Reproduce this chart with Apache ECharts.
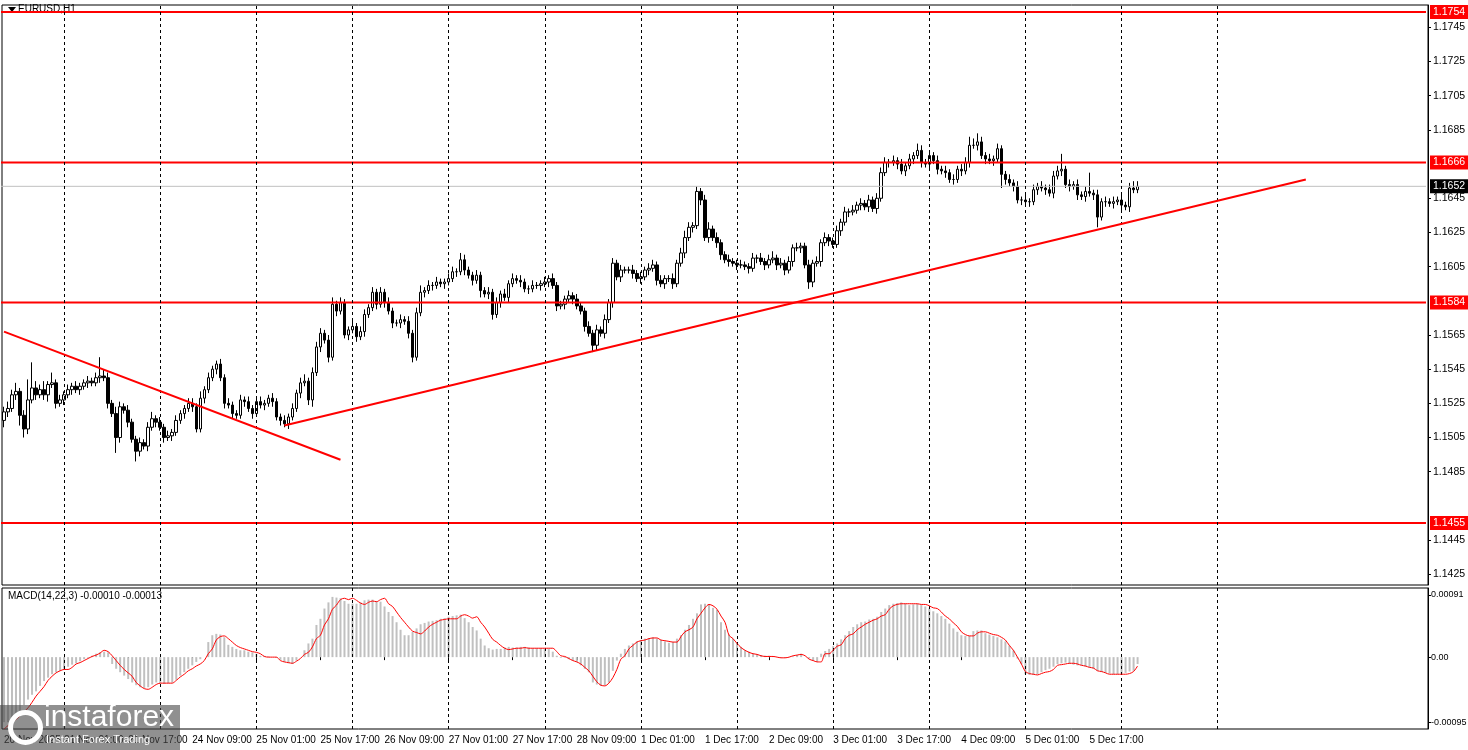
<!DOCTYPE html>
<html><head><meta charset="utf-8">
<script src="https://cdn.jsdelivr.net/npm/echarts@6/dist/echarts.min.js"></script>
<style>html,body{margin:0;padding:0;background:#fff}#c{width:1468px;height:750px}</style>
</head><body><div id="c"></div>
<script>
const closes = [
1.1520,1.1522,1.1530,1.1532,1.1518,1.1510,1.1527,1.1534,1.1530,1.1533,1.1530,1.1536,1.1537,1.1525,1.1527,1.1530,1.1533,1.1535,1.1533,1.1535,
1.1537,1.1538,1.1537,1.1540,1.1541,1.1540,1.1525,1.1519,1.1505,1.1523,1.1521,1.1514,1.1504,1.1497,1.1502,1.1500,1.1511,1.1516,1.1514,1.1511,
1.1505,1.1506,1.1508,1.1515,1.1519,1.1522,1.1525,1.1523,1.1510,1.1528,1.1533,1.1540,1.1545,1.1548,1.1540,1.1525,1.1524,1.1519,1.1518,1.1527,
1.1526,1.1522,1.1519,1.1526,1.1524,1.1525,1.1528,1.1526,1.1517,1.1515,1.1513,1.1517,1.1522,1.1531,1.1537,1.1538,1.1527,1.1543,1.1558,1.1566,
1.1562,1.1552,1.1583,1.1579,1.1584,1.1565,1.1568,1.1570,1.1564,1.1567,1.1577,1.1581,1.1590,1.1583,1.1590,1.1584,1.1579,1.1572,1.1572,1.1574,
1.1573,1.1566,1.1552,1.1578,1.1590,1.1591,1.1594,1.1594,1.1596,1.1595,1.1596,1.1598,1.1602,1.1602,1.1609,1.1603,1.1600,1.1597,1.1600,1.1591,
1.1589,1.1590,1.1577,1.1584,1.1589,1.1587,1.1595,1.1598,1.1597,1.1596,1.1592,1.1592,1.1594,1.1594,1.1595,1.1596,1.1598,1.1594,1.1582,1.1583,
1.1586,1.1588,1.1586,1.1582,1.1579,1.1570,1.1566,1.1559,1.1568,1.1566,1.1574,1.1584,1.1607,1.1599,1.1603,1.1603,1.1603,1.1601,1.1598,1.1599,
1.1603,1.1604,1.1606,1.1597,1.1595,1.1598,1.1598,1.1595,1.1607,1.1613,1.1622,1.1628,1.1629,1.1649,1.1644,1.1622,1.1627,1.1622,1.1619,1.1612,
1.1609,1.1608,1.1607,1.1606,1.1606,1.1605,1.1604,1.1610,1.1610,1.1608,1.1606,1.1609,1.1610,1.1606,1.1607,1.1603,1.1608,1.1616,1.1616,1.1617,
1.1606,1.1596,1.1607,1.1608,1.1619,1.1622,1.1620,1.1618,1.1626,1.1631,1.1637,1.1637,1.1638,1.1641,1.1642,1.1640,1.1644,1.1639,1.1645,1.1660,
1.1666,1.1666,1.1667,1.1665,1.1661,1.1664,1.1668,1.1670,1.1673,1.1666,1.1665,1.1670,1.1667,1.1662,1.1661,1.1660,1.1656,1.1656,1.1662,1.1661,
1.1666,1.1676,1.1676,1.1678,1.1670,1.1668,1.1667,1.1668,1.1674,1.1659,1.1656,1.1654,1.1652,1.1644,1.1644,1.1643,1.1643,1.1650,1.1652,1.1651,
1.1650,1.1648,1.1658,1.1661,1.1662,1.1653,1.1652,1.1653,1.1647,1.1646,1.1649,1.1648,1.1647,1.1634,1.1643,1.1643,1.1642,1.1643,1.1644,1.1641,
1.1640,1.1651,1.1650,1.1652];
const firstOpen = 1.1515;
const wickUp = [
3,4,3,5,2,3,12,15,4,3,5,2,6,2,3,2,3,2,3,2,
2,3,2,3,11,4,3,2,4,3,2,3,2,2,3,2,3,4,2,3,
2,3,2,3,2,2,3,3,2,4,2,3,2,2,3,2,3,2,2,3,
2,3,2,2,3,2,2,3,2,2,3,2,3,2,3,4,2,3,3,3,
2,3,4,2,3,2,2,4,2,3,3,2,3,2,3,2,3,2,2,3,
2,3,2,3,4,2,3,2,3,2,2,3,3,2,4,3,2,2,3,2,
2,3,2,3,2,3,2,3,2,3,2,2,3,2,2,3,2,3,2,2,
2,3,2,3,2,2,3,2,3,2,3,2,3,2,3,2,2,3,2,3,
2,3,3,2,3,2,2,3,2,3,4,3,2,3,2,3,4,2,3,2,
2,3,2,2,3,2,2,3,2,3,2,3,4,2,3,2,3,2,3,2,
2,3,2,3,2,3,2,2,3,2,3,2,3,2,3,2,3,2,3,3,
3,2,3,2,3,2,3,2,4,3,2,3,2,3,2,3,2,3,2,3,
3,5,4,5,3,2,3,2,3,2,2,3,2,3,2,3,2,3,2,3,
2,3,3,3,9,2,3,2,3,2,3,11,2,3,2,3,2,3,2,3,
2,3,4,3];
const wickDown = [
4,3,2,3,6,5,3,2,3,2,3,4,2,3,2,3,2,3,2,3,
2,3,2,2,3,2,3,2,9,3,2,3,2,6,3,2,3,2,3,2,
3,2,3,2,2,3,2,3,2,2,3,2,2,3,2,3,2,3,2,2,
3,2,3,2,2,3,2,3,2,3,2,3,2,2,3,2,3,4,2,3,
2,3,2,3,2,2,3,2,3,2,3,2,2,3,2,3,2,3,2,3,
2,3,3,2,2,3,2,3,2,2,3,2,2,3,2,3,2,3,2,4,
2,3,3,2,3,2,3,2,2,3,2,3,2,2,3,2,3,2,3,2,
3,2,3,2,2,3,2,4,3,2,3,2,3,2,3,2,2,3,2,3,
2,3,2,3,2,3,2,3,2,2,3,2,3,2,3,2,3,2,3,3,
2,3,2,3,2,2,3,2,3,2,3,2,2,3,2,3,2,3,2,3,
2,4,3,2,3,2,3,2,2,3,2,3,2,2,3,2,3,2,3,2,
2,3,2,3,2,3,2,3,2,3,2,3,2,3,2,3,2,3,2,3,
2,3,2,3,2,3,2,3,2,8,3,2,3,2,3,2,3,2,3,2,
3,2,3,2,3,2,3,2,3,2,3,2,3,6,2,3,2,3,2,3,
2,3,2,2];
// MACD in units of 0.00001
const macdHist = [
-95,-95,-90,-85,-78,-70,-62,-55,-50,-42,-35,-30,-25,-22,-20,-17,-14,-11,-9,-6,
-3,-1,2,5,7,8,7,-10,-17,-22,-27,-32,-37,-41,-44,-45,-44,-40,-37,-38,
-39,-38,-37,-33,-27,-22,-17,-12,-7,-3,0,22,32,34,33,29,18,15,12,10,
10,8,7,5,2,2,1,0,-1,-4,-7,-9,-10,-5,0,10,20,27,47,56,
71,80,88,87,86,82,78,78,78,80,83,84,84,82,81,74,66,60,51,40,
32,32,37,42,48,50,52,53,54,56,57,59,60,61,62,57,51,44,39,27,
17,13,11,12,12,14,15,14,14,15,15,14,13,13,13,12,12,8,2,-1,
-1,-3,-5,-7,-12,-17,-22,-37,-40,-42,-41,-37,-20,-5,5,12,17,20,23,25,
27,28,29,27,25,23,21,22,27,32,40,47,56,64,77,78,77,72,69,51,
40,33,27,21,15,10,8,5,4,3,2,2,1,0,-1,-1,0,1,3,5,
0,-2,-5,-7,5,9,12,16,20,26,32,38,44,48,51,52,55,56,59,66,
71,76,78,79,80,78,76,77,78,76,74,71,67,64,60,56,49,42,37,32,
31,31,38,39,39,35,33,31,29,26,23,17,10,-2,-10,-25,-26,-26,-25,-22,
-19,-17,-14,-10,-9,-8,-10,-11,-12,-12,-14,-15,-17,-20,-22,-23,-24,-25,-25,-24,
-23,-21,-20,-10];
const macdSignal = [
-105,-100,-95,-91,-86,-80,-74,-66,-57,-50,-43,-34,-28,-23,-20,-18,-18,-15,-10,-8,
-5,-2,1,3,6,10,8,2,-5,-12,-18,-23,-28,-37,-42,-46,-47,-44,-40,-38,
-38,-38,-38,-34,-29,-25,-20,-17,-13,-10,-5,5,12,25,30,31,27,22,17,14,
12,10,8,7,5,1,0,0,0,-5,-7,-8,-9,-6,-2,4,7,15,27,32,
47,56,70,76,84,86,84,86,83,79,77,80,82,81,84,86,78,74,66,58,
51,44,38,36,34,38,44,48,51,54,55,56,56,56,60,62,60,57,59,51,
44,35,26,22,17,13,11,12,13,13,14,13,13,13,13,13,13,13,8,2,
1,-2,-5,-7,-10,-15,-20,-28,-36,-41,-42,-38,-30,-18,-3,2,12,17,22,24,
25,27,28,28,25,24,23,22,22,30,37,40,44,56,64,72,77,75,70,60,
51,32,27,20,14,10,7,5,4,2,1,1,1,0,-1,-1,0,2,3,4,
2,-3,-5,-7,-7,5,5,10,16,18,27,32,34,40,44,48,51,54,56,60,
62,70,75,77,78,78,78,78,78,77,77,75,72,71,66,60,56,50,45,37,
33,31,31,35,37,37,35,33,32,29,25,17,10,0,-10,-21,-24,-25,-26,-24,
-22,-21,-18,-12,-11,-10,-9,-9,-10,-12,-13,-15,-16,-20,-21,-23,-25,-25,-25,-25,
-25,-24,-21,-13];
const timeLabels = ["20 Nov 2025","21 Nov 01:00","21 Nov 17:00","24 Nov 09:00","25 Nov 01:00","25 Nov 17:00","26 Nov 09:00","27 Nov 01:00","27 Nov 17:00","28 Nov 09:00","1 Dec 01:00","1 Dec 17:00","2 Dec 09:00","3 Dec 01:00","3 Dec 17:00","4 Dec 09:00","5 Dec 01:00","5 Dec 17:00"];
const timeLabelIdx = [0,15,31,47,63,79,95,111,127,143,159,175,191,207,223,239,255,271];
const gridLineIdx = [15,39,63,87,111,135,159,183,207,231,255,279,303];
const levels = [1.1754,1.1666,1.1584,1.1455];
const currentPrice = 1.1652;
const priceTicks = [1.1425,1.1445,1.1485,1.1505,1.1525,1.1545,1.1565,1.1605,1.1625,1.1645,1.1685,1.1705,1.1725,1.1745];
const macdTicks = [91,0,-95];
const trendDown = [[0,1.1567],[84,1.1492]];
const trendUp = [[70,1.1512],[325,1.1656]];

const N = 356;
const cats = [];
for (let i=0;i<N;i++) cats.push('');
timeLabelIdx.forEach((k,j)=>cats[k]=timeLabels[j]);
const candles = closes.map((c,i)=>{
  const o = i===0?firstOpen:closes[i-1];
  const hi = Math.max(o,c)+wickUp[i]*0.0001;
  const lo = Math.min(o,c)-wickDown[i]*0.0001;
  return [o,c,lo,hi];
});
const FONT = 'Liberation Sans';
const vLines = gridLineIdx.map(k=>({xAxis:k}));
function levelSeries(v,color,width,bg){
  return {type:'line',xAxisIndex:0,yAxisIndex:0,symbol:'none',silent:true,z:4,
    lineStyle:{color:color,width:width},
    data:[[-1,v],[N-1,v]],
    endLabel:{show:true,formatter:v.toFixed(4),backgroundColor:bg,color:'#fff',padding:[2,3,1,3],fontFamily:FONT,fontSize:10.5,distance:4}};
}

const chart = echarts.init(document.getElementById('c'),null,{renderer:'canvas'});
chart.setOption({
  animation:false,
  backgroundColor:'#fff',
  textStyle:{fontFamily:FONT},
  grid:[
    {left:2,right:40,top:5,height:580,show:true,borderColor:'#000',borderWidth:1,backgroundColor:'#fff',outerBoundsMode:'none',containLabel:false},
    {left:2,right:40,top:588,height:141,show:true,borderColor:'#000',borderWidth:1,backgroundColor:'#fff',outerBoundsMode:'none',containLabel:false}
  ],
  xAxis:[
    {type:'category',gridIndex:0,data:cats,boundaryGap:true,axisLine:{show:false},axisTick:{show:false},axisLabel:{show:false},splitLine:{show:false}},
    {type:'category',gridIndex:1,data:cats,boundaryGap:true,axisLine:{show:false},
     axisTick:{show:true,alignWithLabel:true,interval:(i,v)=>v!=='' && i>0,length:3,lineStyle:{color:'#000'}},
     axisLabel:{show:true,interval:0,formatter:v=>v,align:'left',color:'#000',fontSize:10,fontFamily:FONT,margin:6,hideOverlap:false},splitLine:{show:false}}
  ],
  yAxis:[
    {type:'value',gridIndex:0,position:'right',min:1.14187,max:1.17581,
     axisLine:{show:true,lineStyle:{color:'#000'}},
     axisTick:{show:true,length:3,customValues:priceTicks,lineStyle:{color:'#000'}},
     axisLabel:{show:true,customValues:priceTicks,formatter:v=>v.toFixed(4),color:'#000',fontSize:10.5,fontFamily:FONT,margin:5},
     splitLine:{show:false}},
    {type:'value',gridIndex:1,position:'right',min:-105,max:101,
     axisLine:{show:true,lineStyle:{color:'#000'}},
     axisTick:{show:true,length:3,customValues:macdTicks,lineStyle:{color:'#000'}},
     axisLabel:{show:true,customValues:macdTicks,formatter:v=>v===0?'0.00':(v/100000).toFixed(5),color:'#000',fontSize:9,fontFamily:FONT,margin:3},
     splitLine:{show:false}}
  ],
  series:[
    {type:'candlestick',xAxisIndex:0,yAxisIndex:0,data:candles,barWidth:3,z:3,
     itemStyle:{color:'#ffffff',color0:'#000000',borderColor:'#000000',borderColor0:'#000000',borderWidth:1},
     markLine:{silent:true,symbol:['none','none'],animation:false,
       lineStyle:{color:'#000',type:[3,3],width:1},label:{show:false},data:vLines}},
    levelSeries(currentPrice,'#c0c0c0',1,'#000'),
    levelSeries(levels[0],'#ff0000',2,'#ff0000'),
    levelSeries(levels[1],'#ff0000',2,'#ff0000'),
    levelSeries(levels[2],'#ff0000',2,'#ff0000'),
    levelSeries(levels[3],'#ff0000',2,'#ff0000'),
    {type:'line',xAxisIndex:0,yAxisIndex:0,data:trendDown,symbol:'none',lineStyle:{color:'#ff0000',width:2},z:5},
    {type:'line',xAxisIndex:0,yAxisIndex:0,data:trendUp,symbol:'none',lineStyle:{color:'#ff0000',width:2},z:5},
    {type:'bar',xAxisIndex:1,yAxisIndex:1,data:macdHist,barWidth:2,itemStyle:{color:'#c0c0c0'}},
    {type:'line',xAxisIndex:1,yAxisIndex:1,data:macdSignal,symbol:'none',smooth:0.3,lineStyle:{color:'#ff0000',width:1},z:5,
     markLine:{silent:true,symbol:['none','none'],animation:false,lineStyle:{color:'#000',type:[3,3],width:1},label:{show:false},data:vLines}}
  ],
  graphic:[
    {type:'polygon',shape:{points:[[8,7],[16,7],[12,12]]},style:{fill:'#000'}},
    {type:'text',left:18,top:4,style:{text:'EURUSD,H1',fill:'#000',font:'10px Liberation Sans'}},
    {type:'text',left:8,top:591,style:{text:'MACD(14,22,3) -0.00010 -0.00013',fill:'#000',font:'10px Liberation Sans'}},
    {type:'rect',left:0,top:705,shape:{width:180,height:45},style:{fill:'rgba(70,70,70,0.6)'},z:100},
    {type:'circle',left:8,top:710,shape:{r:15},style:{fill:'none',stroke:'#fff',lineWidth:5},z:101},
    {type:'text',left:44,top:703,style:{text:'instaforex',fill:'#fff',font:'30px Liberation Sans'},z:101},
    {type:'text',left:46,top:734,style:{text:'Instant Forex Trading',fill:'#fff',font:'11px Liberation Sans'},z:101}
  ]
});
</script></body></html>
